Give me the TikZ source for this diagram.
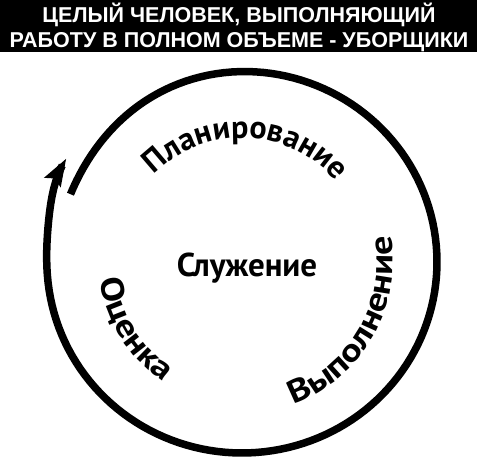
\documentclass[tikz,border=0pt]{standalone}
\usepackage{fontspec}
\usetikzlibrary{calc,arrows.meta,decorations.text}
\newfontfamily\titlefont{Liberation Sans}
\newfontfamily\cyclefont{PT Sans}
\newfontfamily\widefont{PT Sans}[FakeStretch=1.2]
\newcommand{\arcfont}{\cyclefont\bfseries\fontsize{32}{36}\selectfont}
\newcommand{\arcwide}{\widefont\bfseries\fontsize{32}{36}\selectfont}
\tikzset{
    band/.style={fill=black},
    titletext/.style={text=white, align=center, inner sep=0pt,
      font=\titlefont\bfseries\fontsize{21.5}{25}\selectfont},
    centertext/.style={inner sep=0pt, font=\cyclefont\bfseries\fontsize{33}{36}\selectfont},
    loopline/.style={line width=7.5pt, -{Stealth[length=27pt,width=18pt,inset=4pt]}},
    arctext/.style={decorate, decoration={text along path, text align=center, text={|\arcfont|#1}}},
    widearctext/.style={decorate, decoration={text along path, text align=center, text={|\arcwide|#1}}},
  }
% radius of the loop: pulled in at the start, pushed out at the end
\newcommand{\loopr}[1]{(193 - 10*exp(max(-12,-((#1)/40)^2)) + 10*exp(max(-12,-((368-(#1))/16)^2)))}
\begin{document}
\begin{tikzpicture}[x=1pt,y=1pt]
  \useasboundingbox (0,0) rectangle (480,464);
  % title band
  \fill[band] (0,412) rectangle (477,464);
  \node[titletext] (title) at (239,437) {ЦЕЛЫЙ ЧЕЛОВЕК, ВЫПОЛНЯЮЩИЙ\\РАБОТУ В ПОЛНОМ ОБЪЕМЕ - УБОРЩИКИ};
  % the open loop, clockwise from 158 deg
  \coordinate (C) at (242,202);
  \draw[loopline, shift={(C)}, domain=0:369, samples=160, variable=\t]
    plot ({(\loopr{\t}+2)*cos(158-\t)}, {(\loopr{\t}-2)*sin(158-\t)});
  % words round the loop
  \path[arctext=Планирование] ($(C)+(155:124)$) arc[start angle=155, end angle=21, radius=124];
  \path[widearctext=Выполнение] ($(C)+(-100:151)$) arc[start angle=-100, end angle=40, radius=151];
  \path[widearctext=Оценка] ($(C)+(165:143)$) arc[start angle=165, end angle=259, radius=143];
  \node[centertext, anchor=base] (serve) at (247,187) {Служение};
\end{tikzpicture}
\end{document}
